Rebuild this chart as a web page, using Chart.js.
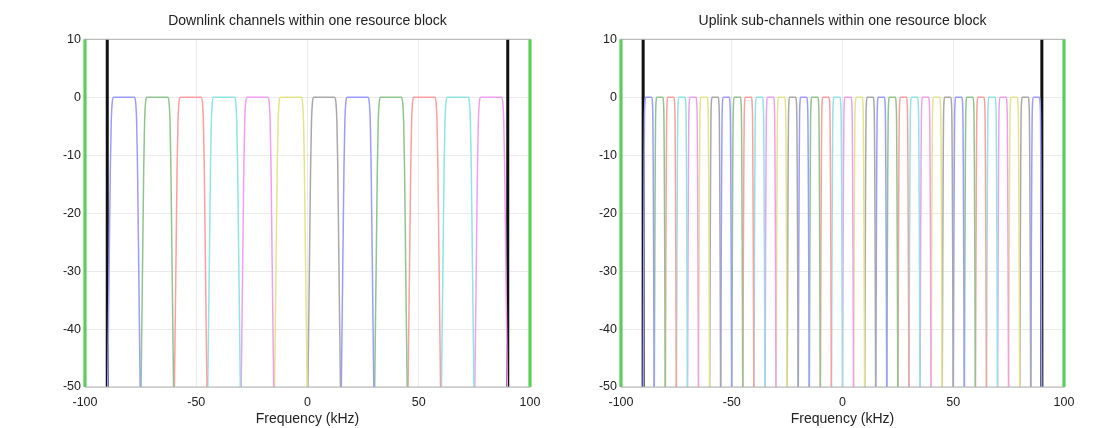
<!DOCTYPE html>
<html>
<head>
<meta charset="utf-8">
<script src="https://cdn.jsdelivr.net/npm/chart.js@4"></script>
<style>
  html, body { margin: 0; padding: 0; background: #fff; }
  #wrap { position: relative; width: 1108px; height: 428px; }
  .box { position: absolute; top: 0; width: 554px; height: 428px; }
</style>
</head>
<body>
<div id="wrap">
  <div class="box" style="left:0"><canvas id="downChart"></canvas></div>
  <div class="box" style="left:554px"><canvas id="upChart"></canvas></div>
</div>
<script>
// channel centre frequencies (kHz)
const downlinkCenters = [-82.5, -67.5, -52.5, -37.5, -22.5, -7.5, 7.5, 22.5, 37.5, 52.5, 67.5, 82.5];
const uplinkCenters = [-87.5, -82.5, -77.5, -72.5, -67.5, -62.5, -57.5, -52.5, -47.5, -42.5, -37.5, -32.5,
  -27.5, -22.5, -17.5, -12.5, -7.5, -2.5, 2.5, 7.5, 12.5, 17.5, 22.5, 27.5,
  32.5, 37.5, 42.5, 47.5, 52.5, 57.5, 62.5, 67.5, 72.5, 77.5, 82.5, 87.5];

// filter response: offset from centre (kHz) and level (dB)
const downlinkShapeOffset = [-7.3, -6.6, -6.1, -5.7, -5.3, -4.7, 4.7, 5.3, 5.7, 6.1, 6.6, 7.3];
const uplinkShapeOffset = [-2.45, -2.25, -2.05, -1.9, -1.7, -1.4, 1.4, 1.7, 1.9, 2.05, 2.25, 2.45];
const shapeDb = [-50, -28, -12, -4, -1, 0, 0, -1, -4, -12, -28, -50];

// resource block edges and plotted span (kHz)
const blockEdges = [-90, 90];
const spanEdges = [-100, 100];

const xRange = [-100, 100];
const yRange = [-50, 10];

const channelColours = ['#9c9cff', '#8fc48f', '#ff9e9e', '#90e4e4', '#eea0ee', '#e4e48e', '#a8a8a8'];

function channelSets(centers, offsets) {
  return centers.map((c, i) => ({
    data: offsets.map((o, k) => ({ x: c + o, y: shapeDb[k] })),
    borderColor: channelColours[i % channelColours.length],
    borderWidth: 1.5,
    pointRadius: 0,
    cubicInterpolationMode: 'monotone',
    showLine: true
  }));
}

function edgeSets(xs, colour) {
  return xs.map(x => ({
    data: [{ x: x, y: yRange[0] }, { x: x, y: yRange[1] }],
    borderColor: colour,
    borderWidth: 3,
    pointRadius: 0,
    showLine: true,
    clip: false
  }));
}

const frame = {
  id: 'frame',
  afterDraw(chart) {
    const a = chart.chartArea, c = chart.ctx;
    c.save();
    c.strokeStyle = '#b0b0b0';
    c.lineWidth = 1;
    c.strokeRect(a.left, a.top, a.right - a.left, a.bottom - a.top);
    c.restore();
  }
};

const tickFont = { family: 'Liberation Sans', size: 12.5 };
const labelFont = { family: 'Liberation Sans', size: 14 };

function makeChart(id, title, sets, yWidth, padRight) {
  return new Chart(document.getElementById(id), {
    type: 'scatter',
    data: { datasets: sets },
    plugins: [frame],
    options: {
      responsive: true,
      maintainAspectRatio: false,
      animation: false,
      layout: { padding: { left: 0, right: padRight, top: 5, bottom: 0 } },
      plugins: {
        legend: { display: false },
        tooltip: { enabled: false },
        title: {
          display: true,
          text: title,
          fullSize: false,
          color: '#222',
          font: { family: 'Liberation Sans', size: 14, weight: 'normal' },
          padding: { top: 8, bottom: 9.5 }
        }
      },
      scales: {
        x: {
          type: 'linear',
          min: xRange[0], max: xRange[1],
          ticks: { stepSize: 50, color: '#222', padding: 8, font: tickFont },
          grid: { color: 'rgba(0,0,0,0.08)', drawTicks: false },
          border: { display: false },
          title: { display: true, text: 'Frequency (kHz)', color: '#222', padding: 0, font: labelFont },
          afterFit(s) { s.height = 41; }
        },
        y: {
          min: yRange[0], max: yRange[1],
          ticks: { stepSize: 10, color: '#222', padding: 4, font: tickFont },
          grid: { color: 'rgba(0,0,0,0.08)', drawTicks: false },
          border: { display: false },
          afterFit(s) { s.width = yWidth; }
        }
      }
    }
  });
}

makeChart('downChart', 'Downlink channels within one resource block',
  channelSets(downlinkCenters, downlinkShapeOffset)
    .concat(edgeSets(blockEdges, '#111'))
    .concat(edgeSets(spanEdges, '#1ed81e')),
  85, 24);

makeChart('upChart', 'Uplink sub-channels within one resource block',
  channelSets(uplinkCenters, uplinkShapeOffset)
    .concat(edgeSets(blockEdges, '#111'))
    .concat(edgeSets(spanEdges, '#1ed81e')),
  67, 44);
</script>
</body>
</html>
